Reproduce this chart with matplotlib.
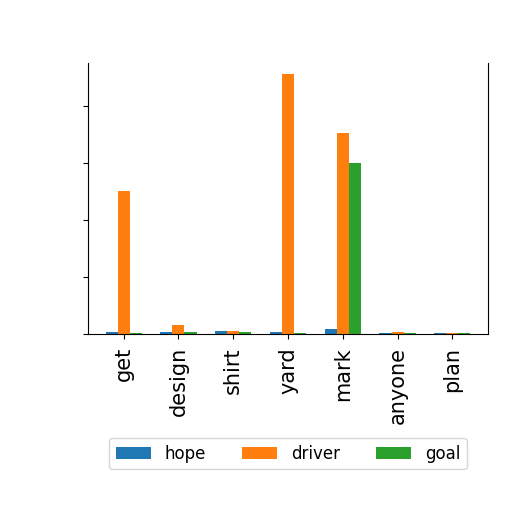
import numpy as np
import matplotlib
matplotlib.use("Agg")
import matplotlib.pyplot as plt

# ======================================================
# DATOS
# ======================================================

categorias = ["get", "design", "shirt", "yard", "mark", "anyone", "plan"]

hope = [0.03, 0.04, 0.05, 0.04, 0.08, 0.02, 0.02]
driver = [2.5, 0.15, 0.05, 4.55, 3.53, 0.03, 0.02]
goal = [0.02, 0.03, 0.03, 0.02, 3.0, 0.02, 0.01]

series = {"hope": hope, "driver": driver, "goal": goal}
colores = ["#1f77b4", "#ff7f0e", "#2ca02c"]

# ======================================================
# FIGURA
# ======================================================

fig = plt.figure(figsize=(5.12, 5.12), dpi=100)
ax = fig.add_axes([0.172, 0.348, 0.781, 0.529])

x = np.arange(len(categorias))
ancho = 0.22

for i, (nombre, valores) in enumerate(series.items()):
    ax.bar(x + (i - 1) * ancho, valores, ancho, label=nombre, color=colores[i])

ax.set_xticks(x)
ax.set_xticklabels(categorias, rotation=90, fontsize=15)
ax.tick_params(axis="x", pad=6)
ax.set_xlim(-0.65, len(categorias) - 0.35)
ax.set_ylim(0, 4.75)
ax.set_yticks([0, 1, 2, 3, 4])
ax.set_yticklabels([])
ax.spines["top"].set_visible(False)

ax.legend(loc="upper center", bbox_to_anchor=(0.5, -0.354), ncol=3,
          fontsize=12, handlelength=2.1, columnspacing=2.2)

plt.savefig("out.png", dpi=100)
